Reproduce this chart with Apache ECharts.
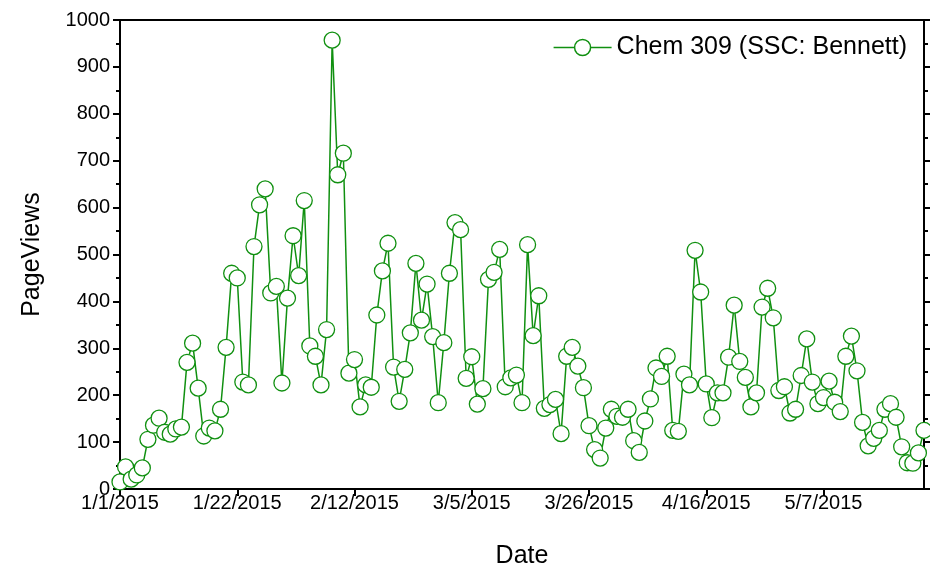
<!DOCTYPE html>
<html>
<head>
<meta charset="utf-8">
<script src="https://cdn.jsdelivr.net/npm/echarts@6/dist/echarts.min.js"></script>
<style>
  html, body { margin: 0; padding: 0; background: #fff; }
  #chart { width: 930px; height: 568px; }
</style>
</head>
<body>
<div id="chart"></div>
<script>
// daily page views, starting 1/1/2015
const startDate = [2015, 0, 1]
const pageViews = [
  15, 47, 21, 30, 45, 106, 136, 151, 121, 117,
  128, 132, 270, 311, 215, 113, 130, 124, 170, 302,
  460, 450, 228, 222, 517, 606, 640, 418, 432, 226,
  407, 540, 455, 615, 305, 283, 222, 340, 957, 670,
  716, 247, 276, 175, 222, 217, 371, 465, 524, 260,
  187, 255, 333, 481, 360, 437, 325, 184, 312, 460,
  568, 553, 236, 282, 181, 214, 447, 462, 511, 218,
  237, 243, 184, 521, 327, 412, 172, 180, 191, 118,
  283, 302, 262, 216, 135, 84, 66, 130, 170, 155,
  153, 170, 103, 78, 145, 192, 258, 240, 283, 125,
  123, 245, 222, 509, 420, 224, 152, 205, 205, 281,
  392, 272, 238, 175, 205, 388, 428, 365, 210, 218,
  162, 170, 242, 320, 228, 182, 195, 230, 185, 165,
  283, 326, 252, 142, 92, 108, 125, 170, 182, 153,
  90, 56, 55, 77, 125
]
const seriesName = 'Chem 309 (SSC: Bennett)'
const dayStep = 21
const lastDay = 144

const green = '#109010'
const font = 'Liberation Sans, Arial, sans-serif'

function dayLabel(v) {
  const d = new Date(startDate[0], startDate[1], startDate[2] + Math.round(v))
  return (d.getMonth() + 1) + '/' + d.getDate() + '/' + d.getFullYear()
}

const points = pageViews.map((v, i) => [i, v])

const chart = echarts.init(document.getElementById('chart'))
chart.setOption({
  animation: false,
  backgroundColor: '#fff',
  grid: { left: 120, right: 6, top: 20, bottom: 79, outerBoundsMode: 'none', containLabel: false },
  legend: {
    right: 18,
    top: 30,
    itemWidth: 58,
    itemHeight: 16,
    itemGap: 8,
    textStyle: { fontFamily: font, fontSize: 25, color: '#000' },
    data: [{ name: seriesName, icon: 'path://M0,8 L21,8 M37,8 L58,8 M37,8 A8,8 0 1 1 21,8 A8,8 0 1 1 37,8' }],
    itemStyle: { color: '#fff', borderColor: green, borderWidth: 1.5 },
    lineStyle: { color: green, width: 1.5 }
  },
  xAxis: [
    {
      type: 'value',
      min: 0,
      max: lastDay,
      interval: dayStep,
      name: 'Date',
      nameLocation: 'middle',
      nameGap: 55,
      nameTextStyle: { fontFamily: font, fontSize: 25, color: '#000' },
      axisLine: { lineStyle: { color: '#000', width: 2 } },
      axisTick: { length: 7, lineStyle: { color: '#000', width: 2 } },
      axisLabel: {
        formatter: dayLabel,
        showMaxLabel: false,
        fontFamily: font,
        fontSize: 20,
        color: '#000',
        margin: 4
      },
      splitLine: { show: false }
    },
    {
      type: 'value',
      position: 'top',
      min: 0,
      max: lastDay,
      interval: dayStep,
      axisLine: { show: true, onZero: false, lineStyle: { color: '#000', width: 2 } },
      axisTick: { show: false },
      axisLabel: { show: false },
      splitLine: { show: false }
    }
  ],
  yAxis: [
    {
      type: 'value',
      min: 0,
      max: 1000,
      interval: 100,
      name: 'PageViews',
      nameLocation: 'middle',
      nameGap: 75,
      nameTextStyle: { fontFamily: font, fontSize: 25, color: '#000' },
      axisLine: { show: true, lineStyle: { color: '#000', width: 2 } },
      axisTick: { show: true, length: 7, lineStyle: { color: '#000', width: 2 } },
      minorTick: { show: true, splitNumber: 2, length: 4, lineStyle: { color: '#000', width: 2 } },
      axisLabel: { formatter: (v) => String(v), fontFamily: font, fontSize: 20, color: '#000', margin: 10 },
      splitLine: { show: false }
    },
    {
      type: 'value',
      position: 'right',
      min: 0,
      max: 1000,
      interval: 100,
      axisLine: { show: true, onZero: false, lineStyle: { color: '#000', width: 2 } },
      axisTick: { show: true, length: 7, lineStyle: { color: '#000', width: 2 } },
      minorTick: { show: true, splitNumber: 2, length: 4, lineStyle: { color: '#000', width: 2 } },
      axisLabel: { show: false },
      splitLine: { show: false }
    }
  ],
  series: [
    {
      name: seriesName,
      type: 'line',
      data: points,
      symbol: 'circle',
      symbolSize: 16,
      showAllSymbol: true,
      clip: true,
      lineStyle: { color: green, width: 1.5 },
      itemStyle: { color: '#fff', borderColor: green, borderWidth: 1.3 }
    }
  ]
})
</script>
</body>
</html>
